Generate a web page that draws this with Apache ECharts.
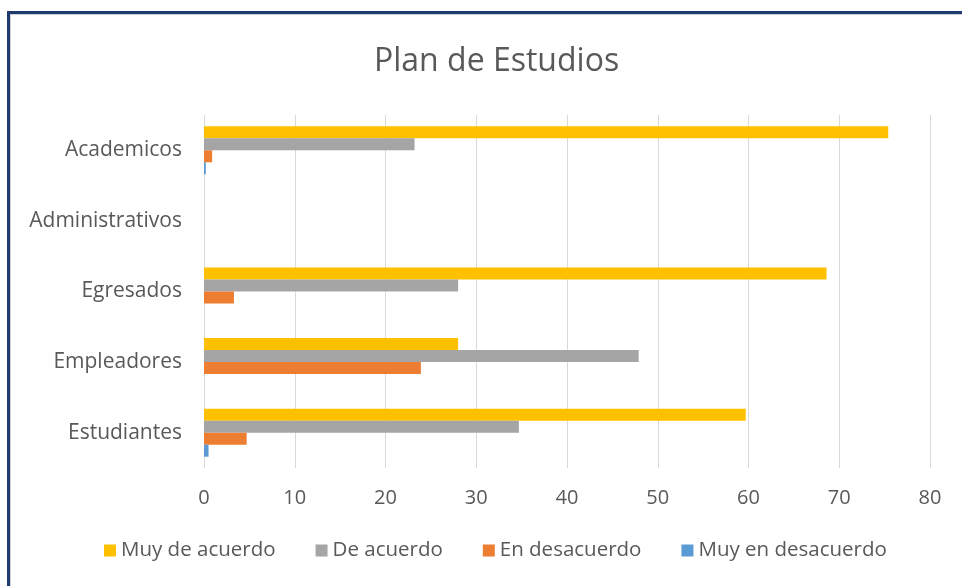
<!DOCTYPE html>
<html>
<head>
<meta charset="utf-8">
<script src="https://cdn.jsdelivr.net/npm/echarts@6/dist/echarts.min.js"></script>
<style>
html,body{margin:0;padding:0;background:#fff;}
#chart{width:962px;height:586px;}
</style>
</head>
<body>
<div id="chart"></div>
<script>
const categories = ["Academicos", "Administrativos", "Egresados", "Empleadores", "Estudiantes"];
const seriesNames = ["Muy de acuerdo", "De acuerdo", "En desacuerdo", "Muy en desacuerdo"];
const muyDeAcuerdo = [75.4, null, 68.6, 28.0, 59.7];
const deAcuerdo = [23.2, null, 28.0, 47.9, 34.7];
const enDesacuerdo = [0.9, null, 3.3, 23.9, 4.7];
const muyEnDesacuerdo = [0.2, null, 0, 0, 0.5];
const xTicks = [0, 10, 20, 30, 40, 50, 60, 70, 80];

const colors = ["#FFC000", "#A5A5A5", "#ED7D31", "#5B9BD5"];
const FONT = "Open Sans";
const dataSets = [muyDeAcuerdo, deAcuerdo, enDesacuerdo, muyEnDesacuerdo];

const chart = echarts.init(document.getElementById('chart'), null, {renderer: 'canvas'});
chart.setOption({
  animation: false,
  color: colors,
  title: {
    text: "Plan de Estudios",
    left: 369,
    top: 41,
    textStyle: {fontFamily: FONT, fontSize: 32, fontWeight: 'normal', color: '#595959'}
  },
  legend: {
    bottom: 20,
    left: 99,
    itemWidth: 12,
    itemHeight: 12,
    itemGap: 40,
    icon: 'rect',
    textStyle: {fontFamily: FONT, fontSize: 20.5, color: '#595959'},
    data: seriesNames
  },
  grid: {left: 204, right: 32, top: 115, bottom: 118, containLabel: false},
  xAxis: {
    type: 'value',
    min: xTicks[0],
    max: xTicks[xTicks.length - 1],
    interval: 10,
    axisLine: {show: false},
    axisTick: {show: false},
    splitLine: {lineStyle: {color: '#D9D9D9', width: 1}},
    axisLabel: {fontFamily: FONT, fontSize: 20, color: '#595959', margin: 20}
  },
  yAxis: {
    type: 'category',
    inverse: true,
    data: categories,
    axisLine: {show: false},
    axisTick: {show: false},
    axisLabel: {fontFamily: FONT, fontSize: 21, color: '#595959', margin: 22}
  },
  graphic: [
    {type: 'line', shape: {x1: 8.5, y1: 12, x2: 8.5, y2: 586}, style: {stroke: '#1F3A70', lineWidth: 3}},
    {type: 'line', shape: {x1: 7, y1: 12.5, x2: 962, y2: 12.5}, style: {stroke: '#1F3A70', lineWidth: 3}},
    {type: 'line', shape: {x1: 10.5, y1: 14, x2: 10.5, y2: 586}, style: {stroke: '#D0D0D0', lineWidth: 1}},
    {type: 'line', shape: {x1: 10, y1: 14.5, x2: 962, y2: 14.5}, style: {stroke: '#D0D0D0', lineWidth: 1}}
  ],
  series: seriesNames.map((name, i) => ({
    name: name,
    type: 'bar',
    data: dataSets[i],
    barGap: '0%',
    barCategoryGap: '32%',
    itemStyle: {color: colors[i]}
  }))
});
</script>
</body>
</html>
